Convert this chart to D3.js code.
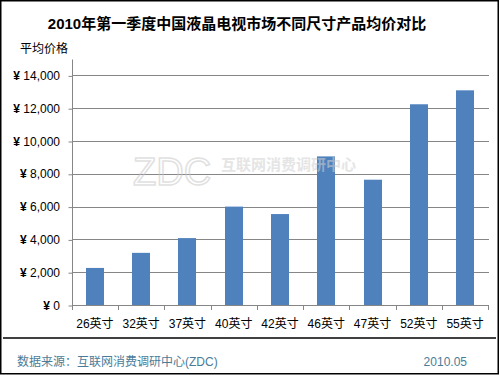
<!DOCTYPE html>
<html>
<head>
<meta charset="utf-8">
<script src="https://cdn.jsdelivr.net/npm/d3@7"></script>
<style>
  body { margin: 0; background: #fff; }
  text { font-family: Arial, "Liberation Sans", "Noto Sans CJK SC", sans-serif; }
</style>
</head>
<body>
<svg id="chart"></svg>
<script>
// chart data
var sizes = ["26英寸", "32英寸", "37英寸", "40英寸", "42英寸", "46英寸", "47英寸", "52英寸", "55英寸"];
var prices = [2260, 3180, 4080, 6000, 5545, 9060, 7640, 12240, 13090];
var yTicks = [0, 2000, 4000, 6000, 8000, 10000, 12000, 14000];

var titleText = "2010年第一季度中国液晶电视市场不同尺寸产品均价对比";
var yTitle = "平均价格";
var sourceText = "数据来源：互联网消费调研中心(ZDC)";
var dateText = "2010.05";

var width = 500, height = 375;
var svg = d3.select('#chart')
    .attr('width', width)
    .attr('height', height);

var x = d3.scaleBand().domain(sizes).range([72, 488]).paddingInner(0.61).paddingOuter(0.3);
var y = d3.scaleLinear().domain([0, 15000]).range([305, 59]);

// frame
svg.append("rect")
    .attr("x", 0.75).attr("y", 0.75)
    .attr("width", 497.5).attr("height", 373)
    .attr("fill", "none").attr("stroke", "#000").attr("stroke-width", 1.5);
svg.append("line")
    .attr("x1", 3).attr("x2", 496).attr("y1", 338).attr("y2", 338)
    .attr("stroke", "#000").attr("stroke-width", 1.5);

// title
svg.append("text")
    .attr("x", 237).attr("y", 29)
    .attr("text-anchor", "middle")
    .attr("font-size", "15px").attr("font-weight", "bold")
    .text(titleText);

svg.append("text")
    .attr("x", 20).attr("y", 53)
    .attr("font-size", "12px")
    .text(yTitle);

// gridlines
svg.selectAll(".grid").data(yTicks.slice(1)).enter()
    .append("line")
    .attr("x1", 72).attr("x2", 489)
    .attr("y1", d => Math.round(y(d)) + 0.5).attr("y2", d => Math.round(y(d)) + 0.5)
    .attr("stroke", "#868686");

// y axis
var yAxis = d3.axisLeft(y).tickValues(yTicks).tickSize(4).tickFormat("");
var gy = svg.append("g").attr("transform", "translate(72.5,0.5)").call(yAxis);
gy.select(".domain").attr("stroke", "#868686").attr("d", "M0," + y(15000) + "V" + y(0));
gy.selectAll(".tick line").attr("stroke", "#868686");

var ylab = svg.selectAll(".ylab").data(yTicks).enter()
    .append("text")
    .attr("x", 60).attr("y", d => y(d) + 4.5)
    .attr("text-anchor", "end")
    .attr("font-size", "12px");
ylab.append("tspan").attr("font-weight", "bold").text("¥ ");
ylab.append("tspan").text(d => d3.format(",")(d));

// bars
svg.selectAll(".bar").data(prices).enter()
    .append("rect")
    .attr("x", (d, i) => Math.round(x(sizes[i])))
    .attr("width", Math.round(x.bandwidth()))
    .attr("y", d => y(d))
    .attr("height", d => y(0) - y(d))
    .attr("fill", "#4f81bd");

// x axis
var step = x.step();
var xTicks = d3.range(sizes.length + 1).map(i => 72 + i * (416 / sizes.length));
svg.append("line")
    .attr("x1", 72).attr("x2", 489).attr("y1", 305.5).attr("y2", 305.5)
    .attr("stroke", "#868686");
svg.selectAll(".xt").data(xTicks).enter()
    .append("line")
    .attr("x1", d => Math.round(d) + 0.5).attr("x2", d => Math.round(d) + 0.5)
    .attr("y1", 305).attr("y2", 310)
    .attr("stroke", "#868686");

svg.selectAll(".xlab").data(sizes).enter()
    .append("text")
    .attr("x", d => x(d) + x.bandwidth() / 2)
    .attr("y", 328)
    .attr("text-anchor", "middle")
    .attr("font-size", "12px")
    .text(d => d);

// watermark
var wm = svg.append("g").attr("opacity", 0.55);
wm.append("text")
    .attr("x", 133).attr("y", 185)
    .attr("font-family", "'Liberation Serif', serif")
    .attr("font-size", "38px")
    .attr("fill", "none").attr("stroke", "#c8c8c8").attr("stroke-width", 1.5)
    .text("ZDC");
wm.append("text")
    .attr("x", 221).attr("y", 170)
    .attr("font-size", "15px").attr("font-weight", "bold")
    .attr("fill", "#d0d0d0")
    .text("互联网消费调研中心");

// footer
svg.append("text")
    .attr("x", 17).attr("y", 366)
    .attr("font-size", "12px").attr("fill", "#4a7c98")
    .text(sourceText);
svg.append("text")
    .attr("x", 467).attr("y", 366)
    .attr("text-anchor", "end")
    .attr("font-size", "12px").attr("fill", "#4a7c98")
    .text(dateText);
</script>
</body>
</html>
